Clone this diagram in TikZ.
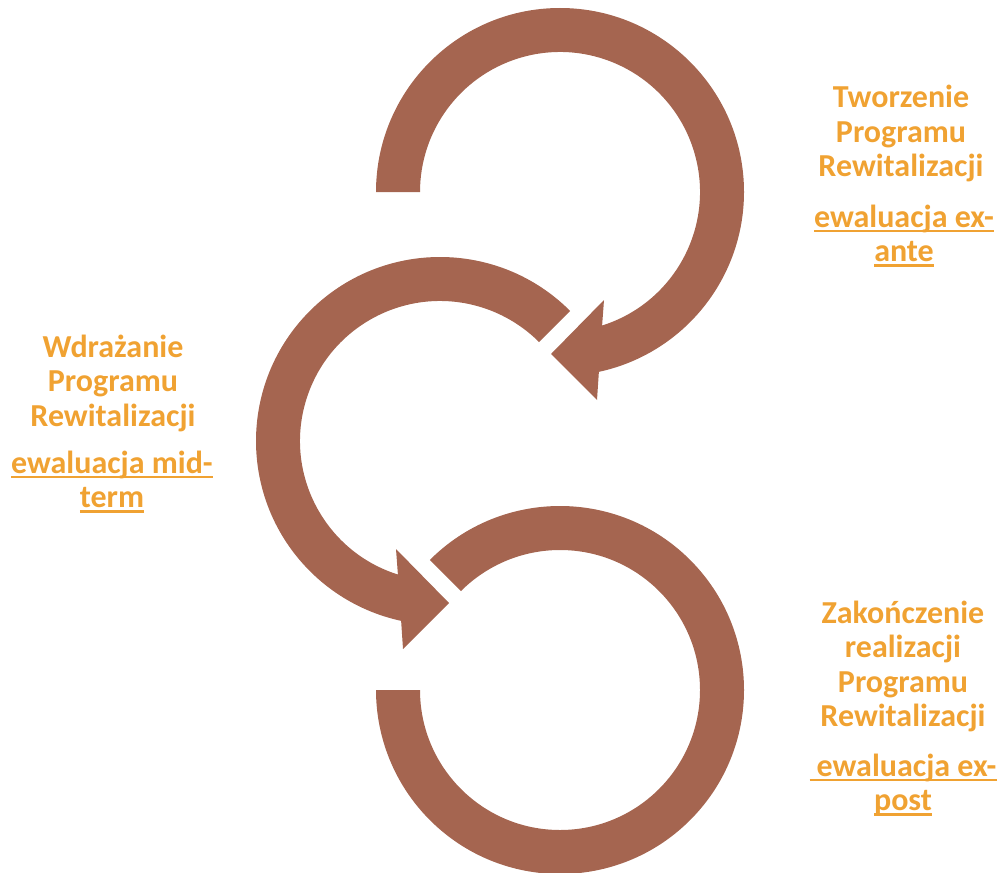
\documentclass[tikz,border=0pt]{standalone}
\usepackage{fontspec}
\setmainfont{Carlito}
\usetikzlibrary{calc}
\definecolor{arrowbrown}{RGB}{165,101,80}
\definecolor{labelorange}{RGB}{240,162,50}
\newcommand\myul[1]{\leavevmode\setbox0=\hbox{#1}\rlap{\rule[-5pt]{\wd0}{2.2pt}}\box0}
\newcommand\stack[1]{\vtop{\lineskiplimit=-100pt\lineskip=0pt\baselineskip=34.5pt\halign{\hfil##\hfil\cr#1\crcr}}}
\begin{document}
\begin{tikzpicture}[x=1pt,y=1pt,
  band/.style={fill=arrowbrown},
  lbl/.style={inner sep=0pt, anchor=base, text=labelorange,
    font=\bfseries\fontsize{32}{34.5}\selectfont}]
\useasboundingbox (0,0) rectangle (1003,-872);
\clip (0,0) rectangle (1003,-872);
\coordinate (c1) at (560,-192);
\coordinate (c2) at (440,-441);
\coordinate (c3) at (560,-690);
% top arrow
\fill[band] ($(c1)+(180:184)$) arc[start angle=180, end angle=-77.8, radius=184]
  -- (597,-400) -- (551,-354) -- (604,-300)
  -- ($(c1)+(-72.5:140)$) arc[start angle=-72.5, end angle=180, radius=140] -- cycle;
% middle arrow
\fill[band] ($(c2)+(45:184)$) arc[start angle=45, end angle=257.8, radius=184]
  -- (403,-649) -- (449,-603) -- (396,-549)
  -- ($(c2)+(252.5:140)$) arc[start angle=252.5, end angle=45, radius=140] -- cycle;
% bottom ring
\fill[band] ($(c3)+(135:184)$) arc[start angle=135, end angle=-180, radius=184]
  -- ($(c3)+(180:140)$) arc[start angle=-180, end angle=135, radius=140] -- cycle;
% labels
\node[lbl] (t1) at (901,-108) {\stack{Tworzenie\cr Programu\cr Rewitalizacji}};
\node[lbl] (e1) at (904,-227) {\stack{\myul{ewaluacja ex-}\cr\myul{ante}}};
\node[lbl] (t2) at (113,-357) {\stack{Wdrażanie\cr Programu\cr Rewitalizacji}};
\node[lbl] (e2) at (112,-473) {\stack{\myul{ewaluacja mid-}\cr\myul{term}}};
\node[lbl] (t3) at (903,-623) {\stack{Zakończenie\cr realizacji\cr Programu\cr Rewitalizacji}};
\node[lbl] (e3) at (903,-776) {\stack{\myul{\ ewaluacja ex-}\cr\myul{post}}};
\end{tikzpicture}
\end{document}
